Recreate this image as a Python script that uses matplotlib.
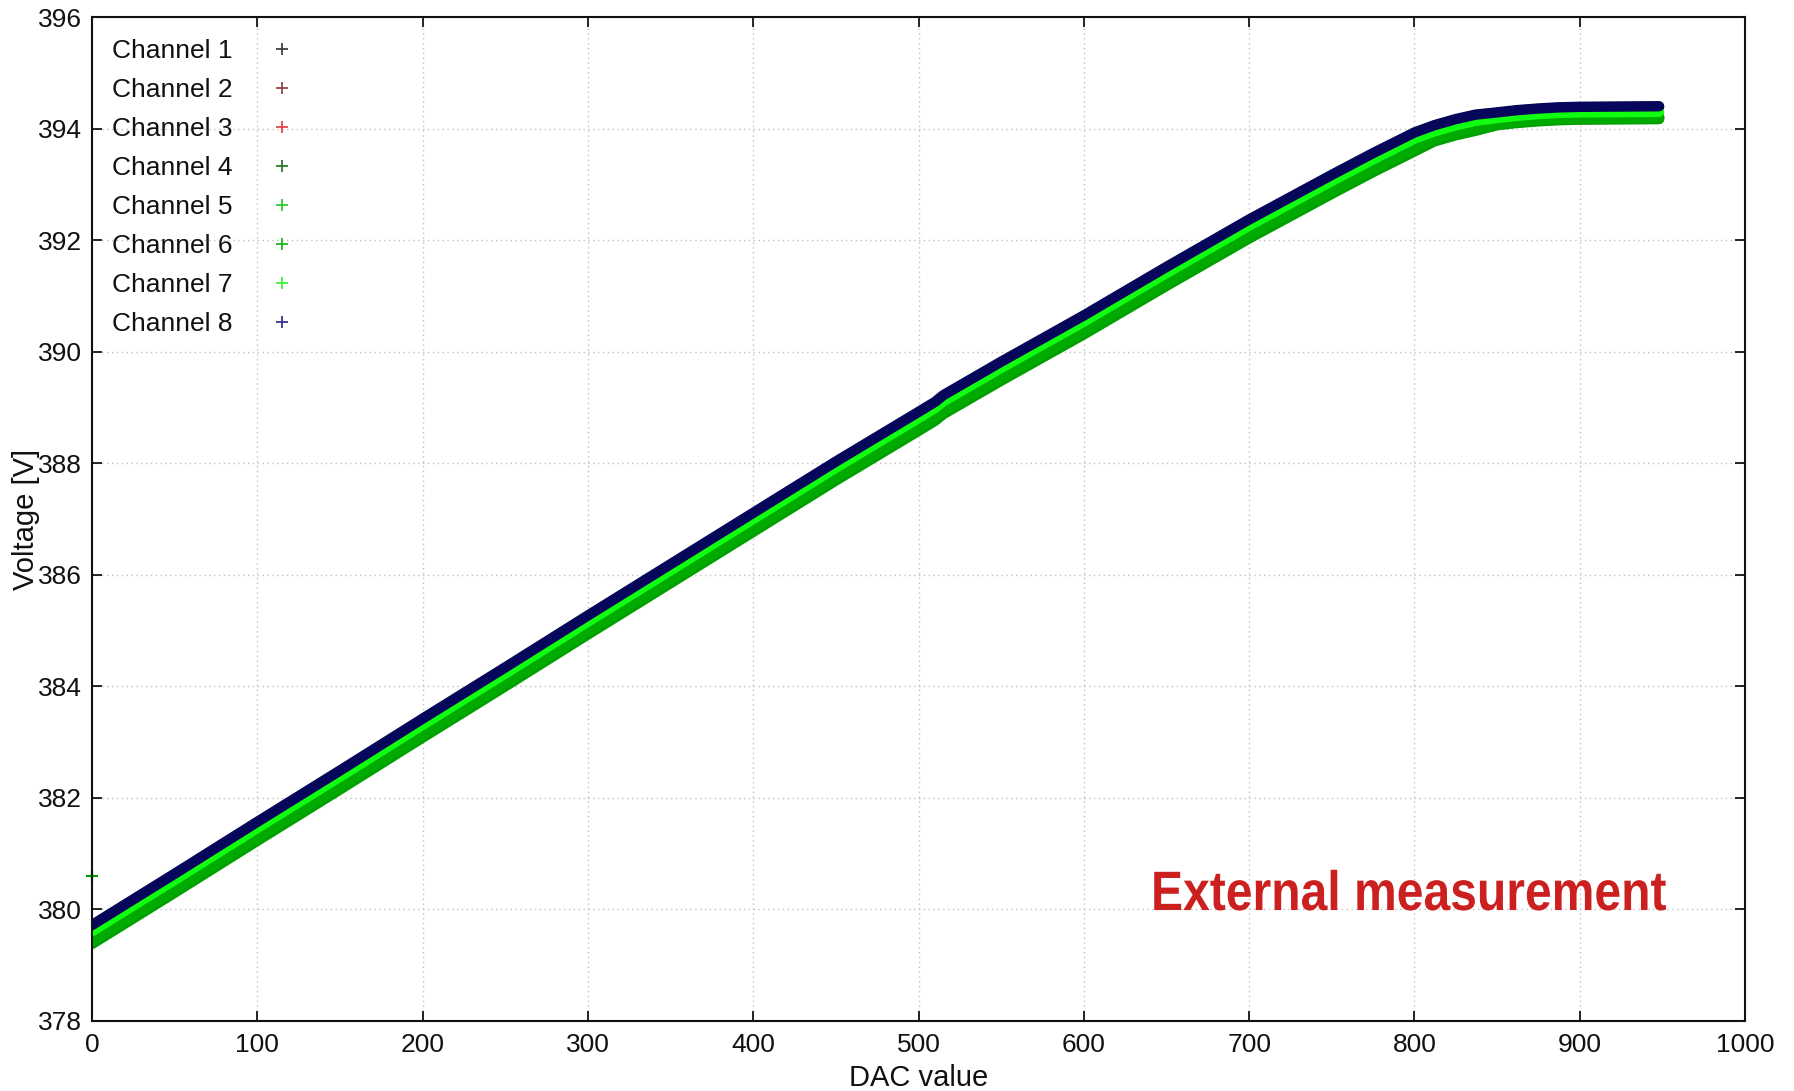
import matplotlib
matplotlib.use('Agg')
from matplotlib import pyplot as plt
from matplotlib import patheffects
from matplotlib.transforms import Affine2D

plt.rcParams['font.family'] = ['Liberation Sans', 'DejaVu Sans']

dac = [0, 50, 100, 150, 200, 250, 300, 350, 400, 450, 500, 510, 515, 550, 600,
       650, 700, 750, 775, 800, 812, 825, 837, 850, 862, 875, 887, 900, 948]

ch1 = [379.70, 380.62, 381.55, 382.47, 383.40, 384.32, 385.25, 386.17, 387.09, 388.01, 388.90, 389.08, 389.20, 389.80, 390.63,
       391.50, 392.35, 393.15, 393.54, 393.91, 394.05, 394.16, 394.24, 394.28, 394.32, 394.35, 394.37, 394.38, 394.39]
ch2 = [379.44, 380.36, 381.29, 382.21, 383.14, 384.06, 384.99, 385.91, 386.83, 387.75, 388.64, 388.82, 388.94, 389.54, 390.37,
       391.24, 392.09, 392.89, 393.28, 393.65, 393.82, 393.93, 394.01, 394.09, 394.13, 394.16, 394.18, 394.19, 394.20]
ch3 = [379.41, 380.33, 381.26, 382.18, 383.11, 384.03, 384.96, 385.88, 386.80, 387.72, 388.61, 388.79, 388.91, 389.51, 390.34,
       391.21, 392.06, 392.86, 393.25, 393.62, 393.79, 393.90, 393.98, 394.07, 394.11, 394.14, 394.16, 394.17, 394.18]
ch4 = [379.46, 380.38, 381.31, 382.23, 383.16, 384.08, 385.01, 385.93, 386.85, 387.77, 388.66, 388.84, 388.96, 389.56, 390.39,
       391.26, 392.11, 392.91, 393.30, 393.67, 393.83, 393.94, 394.02, 394.10, 394.14, 394.17, 394.19, 394.20, 394.21]
ch5 = [379.38, 380.30, 381.23, 382.15, 383.08, 384.00, 384.93, 385.85, 386.77, 387.69, 388.58, 388.76, 388.88, 389.48, 390.31,
       391.18, 392.03, 392.83, 393.22, 393.59, 393.77, 393.88, 393.96, 394.06, 394.10, 394.13, 394.15, 394.16, 394.17]
ch6 = [379.44, 380.36, 381.29, 382.21, 383.14, 384.06, 384.99, 385.91, 386.83, 387.75, 388.64, 388.82, 388.94, 389.54, 390.37,
       391.24, 392.09, 392.89, 393.28, 393.65, 393.82, 393.93, 394.01, 394.09, 394.13, 394.16, 394.18, 394.19, 394.20]
ch7 = [379.61, 380.53, 381.46, 382.38, 383.31, 384.23, 385.16, 386.08, 387.00, 387.92, 388.81, 388.99, 389.11, 389.71, 390.54,
       391.41, 392.26, 393.06, 393.45, 393.82, 393.95, 394.06, 394.14, 394.19, 394.23, 394.26, 394.28, 394.29, 394.30]
ch8 = [379.72, 380.64, 381.57, 382.49, 383.42, 384.34, 385.27, 386.19, 387.11, 388.03, 388.92, 389.10, 389.22, 389.82, 390.65,
       391.52, 392.37, 393.17, 393.56, 393.93, 394.06, 394.17, 394.25, 394.29, 394.33, 394.36, 394.38, 394.39, 394.40]

# single stray reading of channel 5 at DAC 0
ch5_stray_dac = [0]
ch5_stray_v = [380.6]

channels = [ch1, ch2, ch3, ch4, ch5, ch6, ch7, ch8]
labels = ['Channel %d' % i for i in range(1, 9)]
band_colors = ['#1c1c1c', '#8b3a3a', '#d83030', '#1e6e1e', '#00a000', '#00aa00', '#10ff10', '#06065a']
legend_colors = ['#404040', '#9a4848', '#e04848', '#2a7a2a', '#30c830', '#20b820', '#40f040', '#34348e']

xticks = list(range(0, 1001, 100))
yticks = list(range(378, 397, 2))


class Squeeze(patheffects.AbstractPathEffect):
    """Narrow a text horizontally about a fixed x (axes fraction)."""
    def __init__(self, ax, xa, sx):
        super().__init__()
        self.ax, self.xa, self.sx = ax, xa, sx

    def draw_path(self, renderer, gc, tpath, affine, rgbFace=None):
        x0 = self.ax.transAxes.transform((self.xa, 0))[0]
        aff = affine + Affine2D().translate(-x0, 0).scale(self.sx, 1).translate(x0, 0)
        renderer.draw_path(gc, tpath, aff, rgbFace)


fig = plt.figure(figsize=(17.94, 10.91), dpi=100)
ax = fig.add_axes([0.0513, 0.0642, 0.9214, 0.9202])

for v, c in zip(channels, band_colors):
    ax.plot(dac, v, '-', color=c, lw=7.5, solid_capstyle='round', solid_joinstyle='round')
ax.plot(ch5_stray_dac, ch5_stray_v, '+', color=band_colors[4], ms=9, mew=1.6, clip_on=False)

# legend entries, gnuplot style (text then point)
handles = []
for lab, c in zip(labels, legend_colors):
    h, = ax.plot([], [], '+', color=c, ms=9, mew=1.3, label=lab)
    handles.append(h)
leg = ax.legend(handles=handles, loc='upper left', bbox_to_anchor=(0.012, 0.978),
                frameon=False, markerfirst=False, alignment='right', fontsize=19,
                handlelength=1.0, handletextpad=1.36, labelspacing=0.57,
                borderpad=0, borderaxespad=0)
for t in leg.get_texts():
    t.set_color('#111111')

ax.set_xlim(0, 1000)
ax.set_ylim(378, 396)
ax.set_xticks(xticks)
ax.set_yticks(yticks)
ax.tick_params(direction='in', length=7, width=1.2, top=True, right=True,
               labelsize=19, labelcolor='#111111')
ax.tick_params(axis='x', pad=9)
ax.tick_params(axis='y', pad=7)
ax.grid(True, linestyle=(0, (1, 2.5)), color='#c0c0c0', lw=1.0)
for s in ax.spines.values():
    s.set_linewidth(1.5)
    s.set_color('#111111')

ax.set_xlabel('DAC value', fontsize=21, color='#111111')
ax.set_ylabel('Voltage [V]', fontsize=21, color='#111111')
ax.xaxis.set_label_coords(0.5, -0.043)
ax.yaxis.set_label_coords(-0.0315, 0.5)

xa = 0.952
ax.text(xa, 0.1105, 'External measurement', transform=ax.transAxes,
        fontsize=40, fontweight='bold', color='#cc2020',
        ha='right', va='baseline', path_effects=[Squeeze(ax, xa, 0.865)])

fig.savefig('out.png', dpi=100)
